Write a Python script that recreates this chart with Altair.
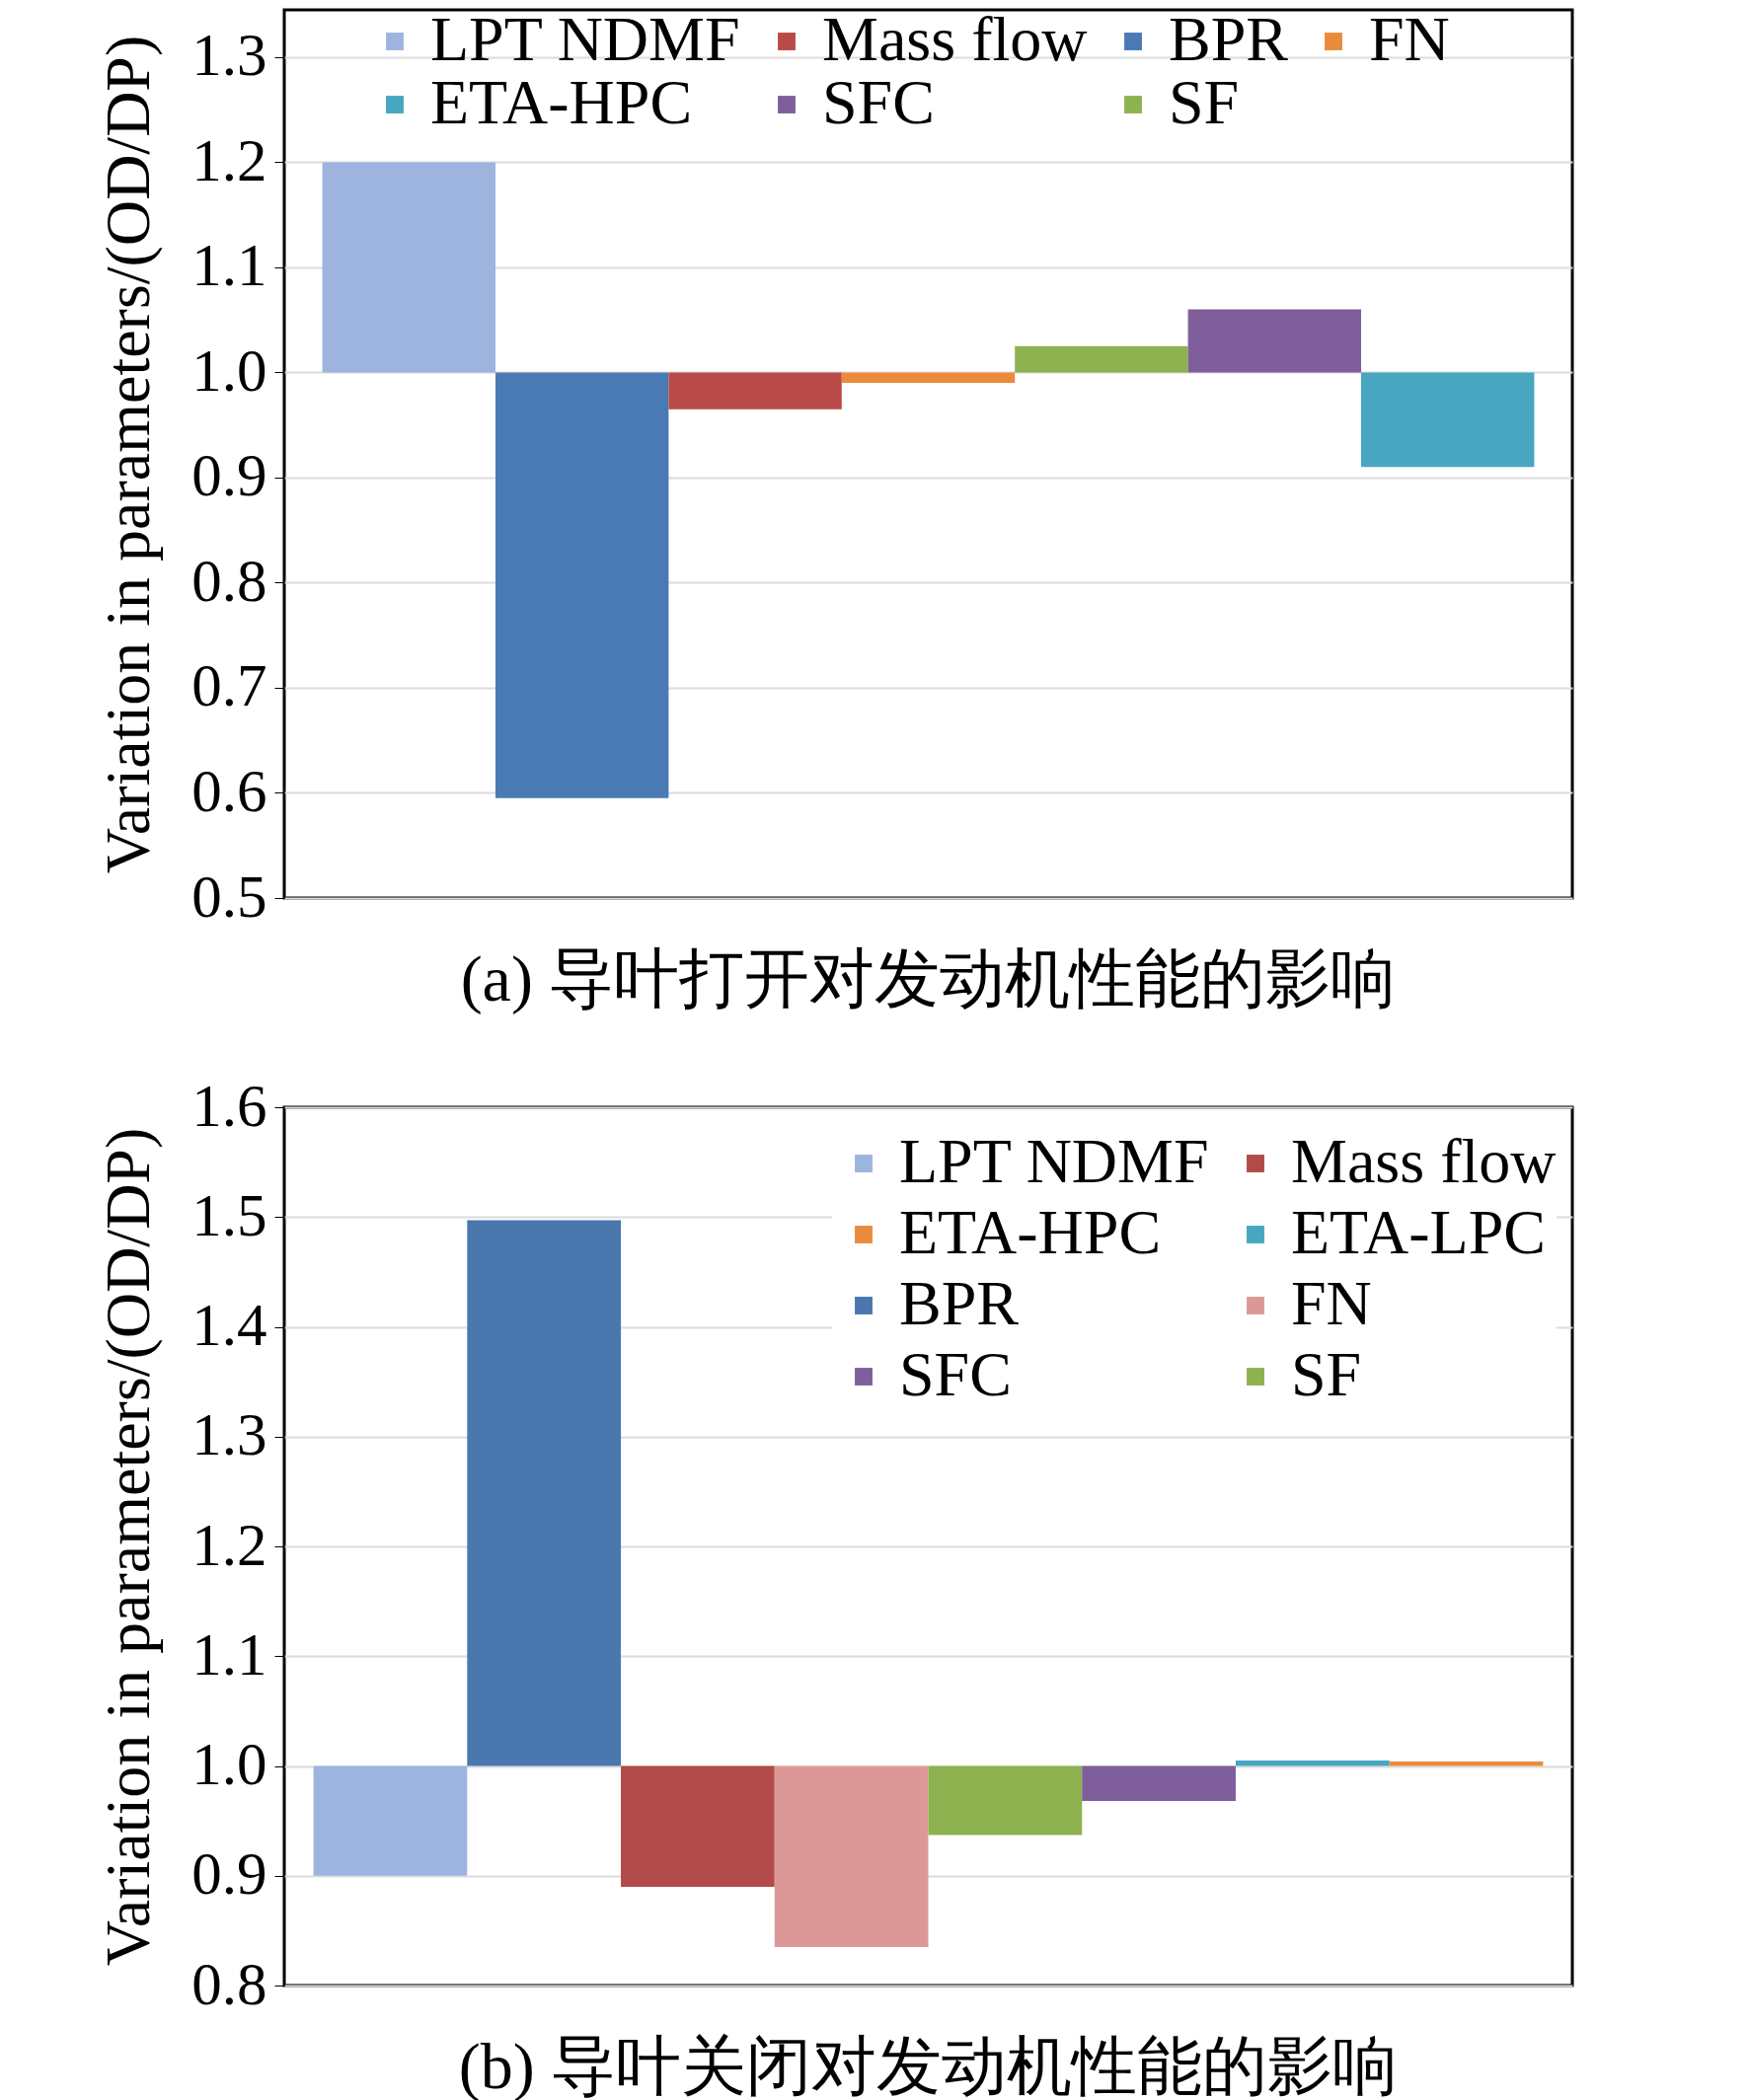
import altair as alt
import pandas as pd

FONT = "Liberation Serif"

# panel (a): guide vanes opened
a_cats = ["LPT NDMF", "BPR", "Mass flow", "FN", "SF", "SFC", "ETA-HPC"]
a_vals = [1.20, 0.595, 0.965, 0.99, 1.025, 1.06, 0.91]
a_legend = ["LPT NDMF", "Mass flow", "BPR", "FN", "ETA-HPC", "SFC", "SF"]
a_colors = ["#9db4de", "#b94a47", "#4a7ab3", "#ea8b3c", "#48a6c1", "#7e5f9c", "#8db24f"]

# panel (b): guide vanes closed
b_cats = ["LPT NDMF", "BPR", "Mass flow", "FN", "SF", "SFC", "ETA-LPC", "ETA-HPC"]
b_vals = [0.90, 1.497, 0.89, 0.835, 0.937, 0.968, 1.005, 1.004]
b_legend = ["LPT NDMF", "Mass flow", "ETA-HPC", "ETA-LPC", "BPR", "FN", "SFC", "SF"]
b_colors = ["#9db4de", "#b14a48", "#ea8b3c", "#48a6c1", "#4a78ae", "#dc9896", "#7e5f9c", "#8db24f"]


def panel(cats, vals, legend_order, colors, domain, tick_vals, pad, title,
          h, cols, lx, ly, legend_fill, row_pad):
    df = pd.DataFrame({"cat": cats, "val": vals, "base": [1.0] * len(cats)})
    legend_args = dict(title=None, orient="none", legendX=lx, legendY=ly,
                       columns=cols, direction="horizontal", symbolType="square",
                       symbolSize=320, labelFont=FONT, labelFontSize=64,
                       labelColor="black", rowPadding=row_pad, columnPadding=14,
                       labelLimit=700)
    if legend_fill:
        legend_args["fillColor"] = legend_fill
    return (
        alt.Chart(df, title=alt.Title(title, orient="bottom", font=FONT,
                                      fontSize=66, fontWeight="normal", offset=22))
        .mark_bar()
        .encode(
            x=alt.X("cat:N", sort=cats, axis=None,
                    scale=alt.Scale(paddingInner=0, paddingOuter=pad)),
            y=alt.Y("val:Q", scale=alt.Scale(domain=domain, nice=False),
                    title="Variation in parameters/(OD/DP)",
                    axis=alt.Axis(values=tick_vals, format=".1f", labelFont=FONT,
                                  labelFontSize=61, labelColor="black",
                                  titleFont=FONT, titleFontSize=64,
                                  titleFontWeight="normal", titleColor="black",
                                  tickColor="black", tickSize=10, domain=False,
                                  gridColor="#dcdcdc", gridWidth=2,
                                  labelPadding=8, titlePadding=30)),
            y2="base:Q",
            color=alt.Color("cat:N",
                            scale=alt.Scale(domain=legend_order, range=colors),
                            legend=alt.Legend(**legend_args)),
        )
        .properties(width=1305, height=h,
                    view=alt.ViewConfig(stroke="black", strokeWidth=3))
    )


top = panel(a_cats, a_vals, a_legend, a_colors, [0.5, 1.345],
            [0.5, 0.6, 0.7, 0.8, 0.9, 1.0, 1.1, 1.2, 1.3], 0.22,
            "(a) 导叶打开对发动机性能的影响", 900, 4, 80, 0, None, 0)
bottom = panel(b_cats, b_vals, b_legend, b_colors, [0.8, 1.6],
               [0.8, 0.9, 1.0, 1.1, 1.2, 1.3, 1.4, 1.5, 1.6], 0.19,
               "(b) 导叶关闭对发动机性能的影响", 890, 2, 555, 25, "white", 8)

chart = (
    alt.vconcat(top, bottom, spacing=60)
    .resolve_scale(color="independent", x="independent", y="independent")
    .properties(padding={"left": 90, "top": 0, "right": 5, "bottom": 0})
    .configure_view(stroke="black", strokeWidth=3)
    .configure(background="white", font=FONT)
)

chart.save("out.html", embed_options={"renderer": "svg", "actions": False})
